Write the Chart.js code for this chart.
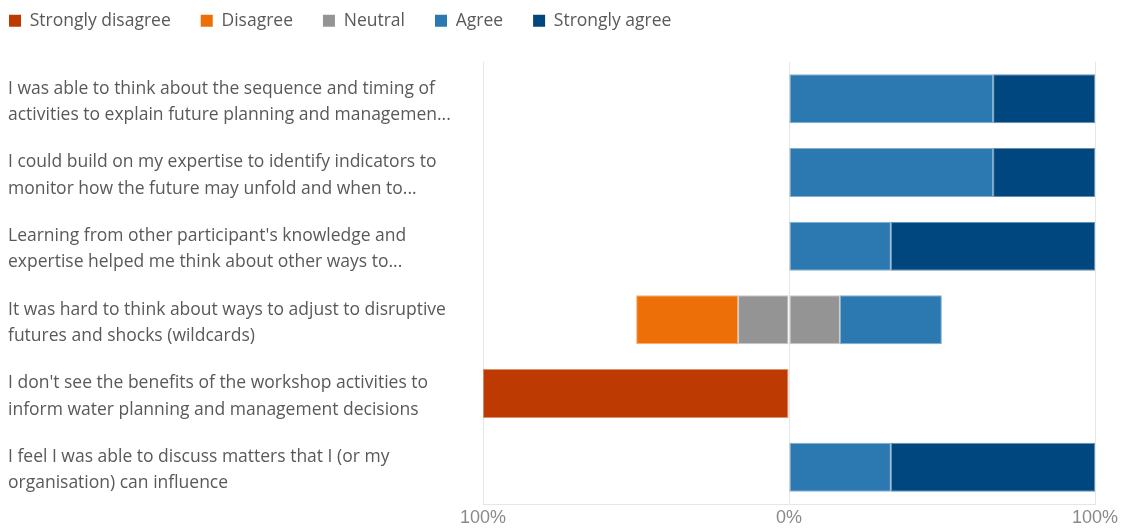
<!DOCTYPE html>
<html>
<head>
<meta charset="utf-8">
<script src="https://cdn.jsdelivr.net/npm/chart.js@4"></script>
<style>
  html, body { margin: 0; padding: 0; background: #ffffff; }
  #wrap { width: 1126px; height: 529px; }
</style>
</head>
<body>
<div id="wrap"><canvas id="chart"></canvas></div>
<script>
// Survey statements (wrapped into two lines each)
const statements = [
  ["I was able to think about the sequence and timing of", "activities to explain future planning and managemen..."],
  ["I could build on my expertise to identify indicators to", "monitor how the future may unfold and when to..."],
  ["Learning from other participant's knowledge and", "expertise helped me think about other ways to..."],
  ["It was hard to think about ways to adjust to disruptive", "futures and shocks (wildcards)"],
  ["I don't see the benefits of the workshop activities to", "inform water planning and management decisions"],
  ["I feel I was able to discuss matters that I (or my", "organisation) can influence"]
];

// Share of responses (%) per statement
const stronglyDisagree = [0, 0, 0, 0, 100, 0];
const disagree         = [0, 0, 0, 33.3, 0, 0];
const neutral          = [0, 0, 0, 33.3, 0, 0];
const agree            = [66.7, 66.7, 33.3, 33.3, 0, 33.3];
const stronglyAgree    = [33.3, 33.3, 66.7, 0, 0, 66.7];

const axisTicks = [-100, 0, 100];

const colors = {
  sd: '#BD3A02',
  d:  '#EC7007',
  n:  '#949494',
  a:  '#2B79B0',
  sa: '#00477F'
};

const FONT = 'Open Sans';
const LEGEND_PAD = 30;

// Negative side stacks outward from zero: neutral half, disagree, strongly disagree
const datasets = [
  { label: 'Neutral', key: 'n-neg', data: neutral.map(v => -v / 2), backgroundColor: colors.n, borderColor: '#c9c9c9', borderWidth: 1, legendOrder: 2 },
  { label: 'Disagree', key: 'd', data: disagree.map(v => -v), backgroundColor: colors.d, borderColor: 'rgba(236,112,7,0.55)', borderWidth: 1, legendOrder: 1 },
  { label: 'Strongly disagree', key: 'sd', data: stronglyDisagree.map(v => -v), backgroundColor: colors.sd, borderColor: 'rgba(189,58,2,0.55)', borderWidth: 1, legendOrder: 0 },
  { label: 'Neutral', key: 'n-pos', data: neutral.map(v => v / 2), backgroundColor: colors.n, borderColor: '#c9c9c9', borderWidth: 1, legendOrder: 99 },
  { label: 'Agree', key: 'a', data: agree, backgroundColor: colors.a, borderColor: 'rgba(43,121,176,0.6)', borderWidth: 1, legendOrder: 3 },
  { label: 'Strongly agree', key: 'sa', data: stronglyAgree, backgroundColor: colors.sa, borderColor: 'rgba(0,71,127,0.6)', borderWidth: 1, legendOrder: 4 }
].map(ds => Object.assign(ds, { stack: 'likert', barPercentage: 0.665, categoryPercentage: 1.0, borderSkipped: false }));

// Legend sits in a fixed 62px band; its items start near the top-left corner
const legendPlacement = {
  id: 'legendPlacement',
  beforeInit(chart) {
    const origFit = chart.legend.fit;
    chart.legend.fit = function () {
      origFit.bind(chart.legend)();
      this.height = 62;
    };
  },
  afterLayout(chart) {
    const lg = chart.legend;
    lg.left = 9 - LEGEND_PAD;
    lg.top = -18;
  }
};

new Chart(document.getElementById('chart'), {
  type: 'bar',
  data: { labels: statements, datasets },
  plugins: [legendPlacement],
  options: {
    indexAxis: 'y',
    responsive: true,
    maintainAspectRatio: false,
    animation: false,
    layout: { padding: { left: 8, right: 31, top: 0, bottom: 0 } },
    plugins: {
      tooltip: { enabled: false },
      legend: {
        position: 'top',
        align: 'start',
        labels: {
          boxWidth: 12,
          boxHeight: 12,
          padding: LEGEND_PAD,
          color: '#595959',
          font: { family: FONT, size: 17.5 },
          filter: (item, data) => data.datasets[item.datasetIndex].key !== 'n-pos',
          sort: (a, b, data) => data.datasets[a.datasetIndex].legendOrder - data.datasets[b.datasetIndex].legendOrder,
          generateLabels(chart) {
            return chart.data.datasets.map((ds, i) => ({
              text: ds.label,
              fillStyle: ds.backgroundColor,
              strokeStyle: ds.backgroundColor,
              lineWidth: 0,
              fontColor: '#595959',
              hidden: false,
              datasetIndex: i
            }));
          }
        }
      }
    },
    scales: {
      x: {
        stacked: true,
        min: -100,
        max: 100,
        afterBuildTicks(scale) { scale.ticks = axisTicks.map(v => ({ value: v })); },
        afterFit(scale) { scale.height = 25; },
        ticks: {
          color: '#8a8a8a',
          font: { family: 'Liberation Sans', size: 18 },
          padding: 3,
          maxRotation: 0,
          callback: v => Math.abs(v) + '%'
        },
        grid: { color: '#e6e6e6', lineWidth: 1, drawTicks: false },
        border: { display: true, color: '#e6e6e6' }
      },
      y: {
        stacked: true,
        afterFit(scale) {
          scale.width = 475;
          // category labels sit inside their bands, so no overflow room is needed
          scale.paddingTop = 0;
          scale.paddingBottom = 0;
        },
        ticks: {
          crossAlign: 'far',
          color: '#595959',
          font: { family: FONT, size: 17.5, lineHeight: 1.5 },
          labelOffset: 3,
          autoSkip: false
        },
        grid: { display: false },
        border: { display: false }
      }
    }
  }
});
</script>
</body>
</html>
